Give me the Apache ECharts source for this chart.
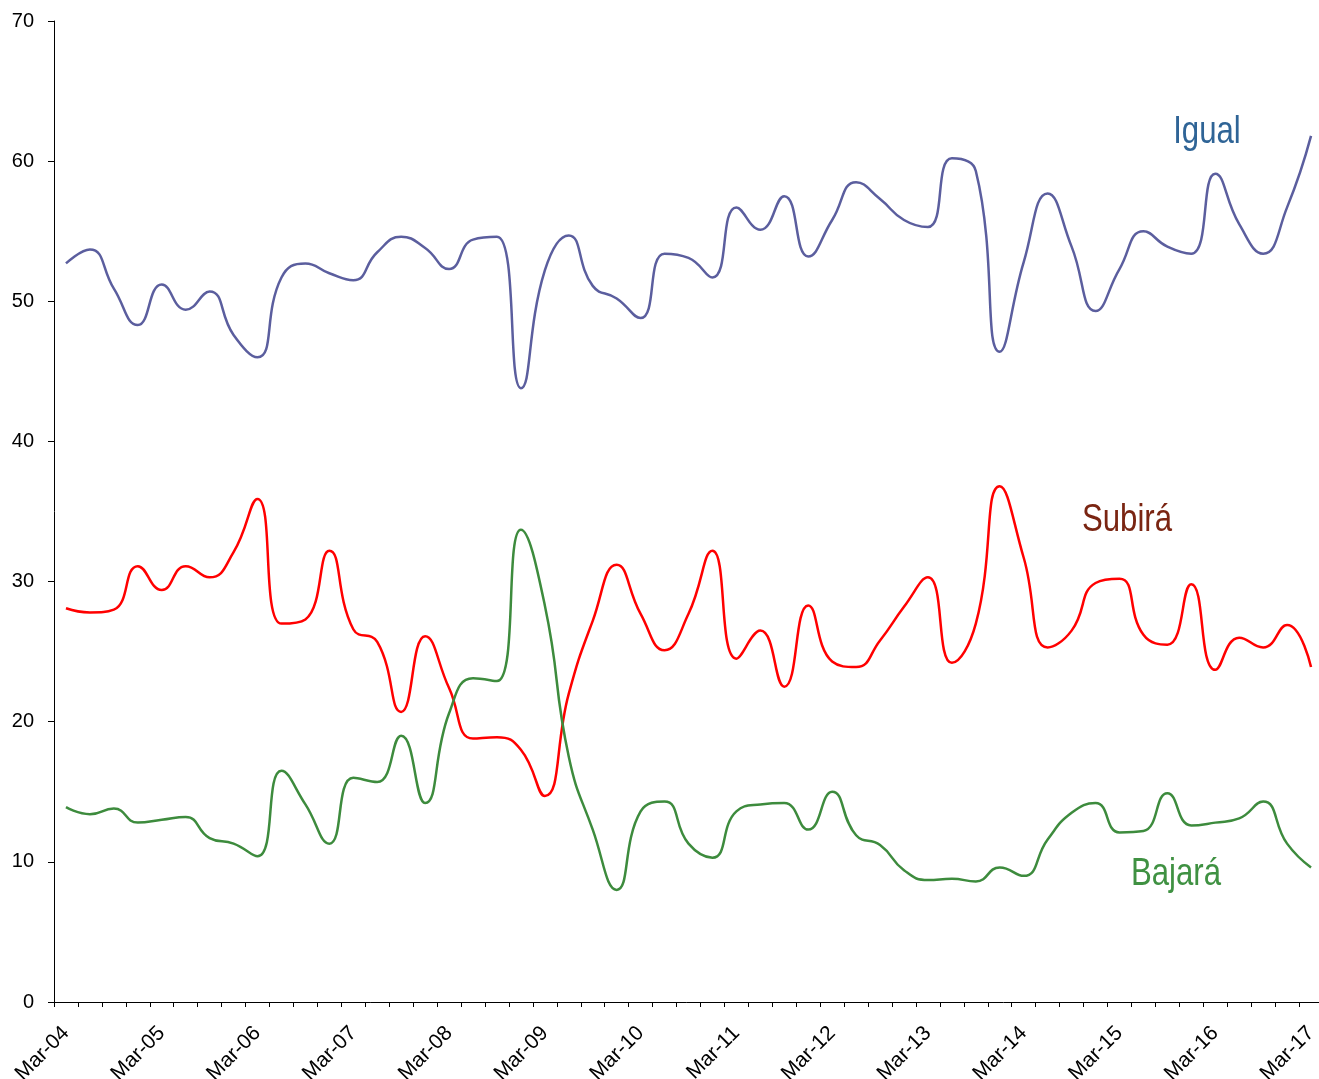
<!DOCTYPE html>
<html>
<head>
<meta charset="utf-8">
<script src="https://cdn.jsdelivr.net/npm/echarts@6/dist/echarts.min.js"></script>
<style>
  html, body { margin: 0; padding: 0; background: #ffffff; }
  #chart { width: 1319px; height: 1079px; }
</style>
</head>
<body>
<div id="chart"></div>
<script>
const years = ['04', '05', '06', '07', '08', '09', '10', '11', '12', '13', '14', '15', '16', '17']
const quarters = ['Mar', 'Jun', 'Sep', 'Dec']

// quarterly, Mar-04 .. Mar-17
const categories = []
years.forEach((y, i) => {
  quarters.forEach(q => {
    if (i === years.length - 1 && q !== 'Mar') return
    categories.push(q + '-' + y)
  })
})

const igual = [
  52.7, 53.7, 50.9, 48.3, 51.2, 49.4, 50.7, 47.6, 46.0, 51.7,
  52.7, 52.0, 51.5, 53.5, 54.6, 53.8, 52.3, 54.4, 54.6, 43.8,
  52.2, 54.7, 51.1, 50.2, 48.8, 53.4, 53.1, 51.7, 56.7, 55.1,
  57.5, 53.2, 55.8, 58.5, 57.3, 55.8, 55.3, 60.2, 59.3, 46.4,
  52.8, 57.7, 53.9, 49.3, 52.3, 55.0, 53.9, 53.4, 59.1, 55.5,
  53.4, 56.7, 61.8
]

const subira = [
  28.1, 27.8, 28.0, 31.1, 29.4, 31.1, 30.3, 32.1, 35.9, 27.0,
  27.3, 32.2, 26.6, 25.7, 20.7, 26.1, 22.4, 18.8, 18.9, 18.0,
  14.7, 22.0, 27.2, 31.2, 27.7, 25.1, 27.7, 32.2, 24.5, 26.5,
  22.5, 28.3, 24.3, 23.9, 25.8, 28.2, 30.3, 24.2, 27.0, 36.8,
  31.7, 25.3, 26.5, 29.9, 30.2, 26.2, 25.5, 29.8, 23.7, 26.0,
  25.3, 26.9, 23.9
]

const bajara = [
  13.9, 13.4, 13.8, 12.8, 13.0, 13.2, 11.7, 11.3, 10.4, 16.5,
  14.1, 11.3, 16.0, 15.7, 19.0, 14.2, 20.6, 23.1, 22.9, 33.7,
  28.3, 17.5, 12.3, 8.0, 13.6, 14.3, 11.3, 10.3, 13.6, 14.1,
  14.2, 12.3, 15.0, 11.9, 11.2, 9.4, 8.7, 8.8, 8.6, 9.6,
  9.0, 11.6, 13.5, 14.2, 12.1, 12.2, 14.9, 12.6, 12.8, 13.1,
  14.3, 11.3, 9.6
]

const chart = echarts.init(document.getElementById('chart'))

const axisFont = '"Liberation Sans", Arial, sans-serif'

const line = (name, data, color) => ({
  name,
  type: 'line',
  data,
  smooth: 0.5,
  symbol: 'none',
  lineStyle: { color, width: 2.5 },
  itemStyle: { color },
  silent: true
})

// series name labels drawn in a narrow face
const seriesLabel = (text, x, y, fill) => ({
  type: 'text', x, y, scaleX: 0.82,
  style: { text, fill, font: '38px ' + axisFont, align: 'center', verticalAlign: 'middle' }
})

chart.setOption({
  backgroundColor: '#ffffff',
  animation: false,
  grid: {
    left: 54, top: 21, bottom: 77, width: 1269,
    containLabel: false,
    outerBoundsMode: 'none'
  },
  xAxis: {
    type: 'category',
    data: categories,
    boundaryGap: true,
    axisLine: { lineStyle: { color: '#000000', width: 1 } },
    axisTick: { show: true, interval: 0, length: 5, lineStyle: { color: '#000000' } },
    axisLabel: {
      interval: 3,
      rotate: 45,
      margin: 28,
      color: '#000000',
      fontSize: 21,
      fontFamily: axisFont
    },
    splitLine: { show: false }
  },
  yAxis: {
    type: 'value',
    min: 0,
    max: 70,
    interval: 10,
    axisLine: { show: true, lineStyle: { color: '#000000', width: 1 } },
    axisTick: { show: true, length: 6, lineStyle: { color: '#000000' } },
    axisLabel: {
      margin: 20,
      color: '#000000',
      fontSize: 20,
      fontFamily: axisFont
    },
    splitLine: { show: false }
  },
  series: [
    line('Igual', igual, '#5B5E9E'),
    line('Subirá', subira, '#FF0000'),
    line('Bajará', bajara, '#3D8B3D')
  ],
  graphic: [
    seriesLabel('Igual', 1207, 133, '#2F6496'),
    seriesLabel('Subirá', 1127, 521, '#7A2512'),
    seriesLabel('Bajará', 1176, 875, '#3F9142')
  ]
})
</script>
</body>
</html>
